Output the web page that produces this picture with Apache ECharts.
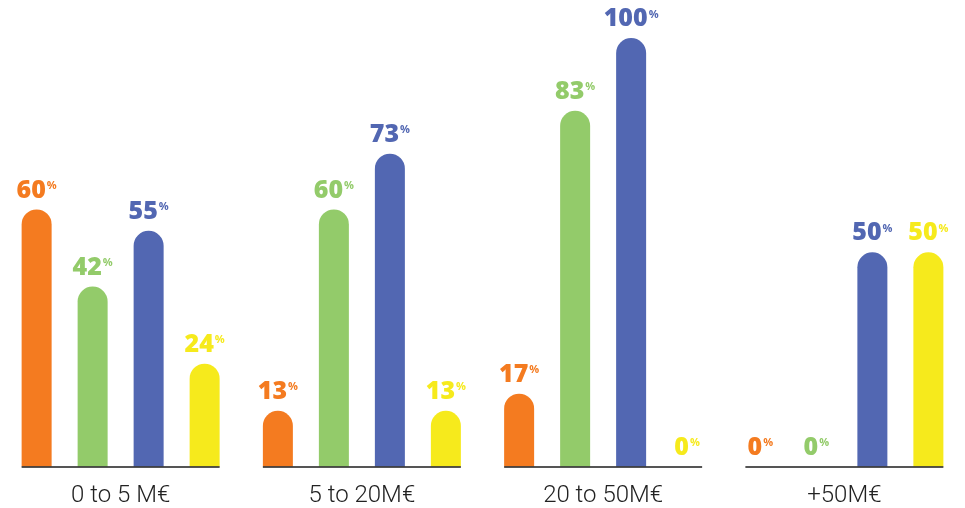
<!DOCTYPE html>
<html>
<head>
<meta charset="utf-8">
<script src="https://cdn.jsdelivr.net/npm/echarts@6/dist/echarts.min.js"></script>
<style>
  html, body { margin: 0; padding: 0; background: #fff; }
  #chart { width: 965px; height: 508px; }
</style>
</head>
<body>
<div id="chart"></div>
<script>
// Revenue bands on the x axis
const categories = ['0 to 5 M€', '5 to 20M€', '20 to 50M€', '+50M€'];

// Share (%) per band for each of the four groups
const seriesOrange = [60, 13, 17, 0];
const seriesGreen  = [42, 60, 83, 0];
const seriesBlue   = [55, 73, 100, 50];
const seriesYellow = [24, 13, 0, 50];

const colors = ['#F47B20', '#93CB6A', '#5267B2', '#F6EA1C'];
const allSeries = [seriesOrange, seriesGreen, seriesBlue, seriesYellow];

const BAR_W = 30;
const BAR_GAP = 26;
const GROUP_W = BAR_W * 4 + BAR_GAP * 3;

const chart = echarts.init(document.getElementById('chart'));

function barSeries(values, color) {
  return {
    type: 'bar',
    data: values,
    barWidth: BAR_W,
    barGap: (BAR_GAP / BAR_W * 100) + '%',
    itemStyle: { color: color, borderRadius: [BAR_W / 2, BAR_W / 2, 0, 0] },
    label: {
      show: true,
      position: 'top',
      distance: 4,
      formatter: p => '{v|' + p.value + '}{p|%}',
      rich: {
        v: { fontFamily: 'Open Sans', fontWeight: 800, fontSize: 25, color: color, lineHeight: 30 },
        p: { fontFamily: 'Open Sans', fontWeight: 700, fontSize: 11, color: color, verticalAlign: 'top', lineHeight: 11, padding: [5, 0, 0, 1] }
      }
    }
  };
}

// Short baseline drawn under each group of bars
const baselineSeries = {
  type: 'custom',
  z: 10,
  silent: true,
  data: categories.map((c, i) => [i, 0]),
  renderItem: (params, api) => {
    const p = api.coord([api.value(0), 0]);
    return {
      type: 'line',
      shape: { x1: p[0] - GROUP_W / 2, y1: p[1] + 0.5, x2: p[0] + GROUP_W / 2, y2: p[1] + 0.5 },
      style: { stroke: '#1c1c1c', lineWidth: 1.6 }
    };
  }
};

chart.setOption({
  animation: false,
  grid: { left: 0, right: 0, top: 38, bottom: 41.5 },
  xAxis: {
    type: 'category',
    data: categories,
    axisLine: { show: false },
    axisTick: { show: false },
    axisLabel: { fontFamily: 'Roboto', fontWeight: 300, fontSize: 24, color: '#222', margin: 17 }
  },
  yAxis: {
    type: 'value',
    min: 0,
    max: 100,
    show: false,
    splitLine: { show: false }
  },
  series: allSeries.map((v, i) => barSeries(v, colors[i])).concat([baselineSeries])
});
</script>
</body>
</html>
